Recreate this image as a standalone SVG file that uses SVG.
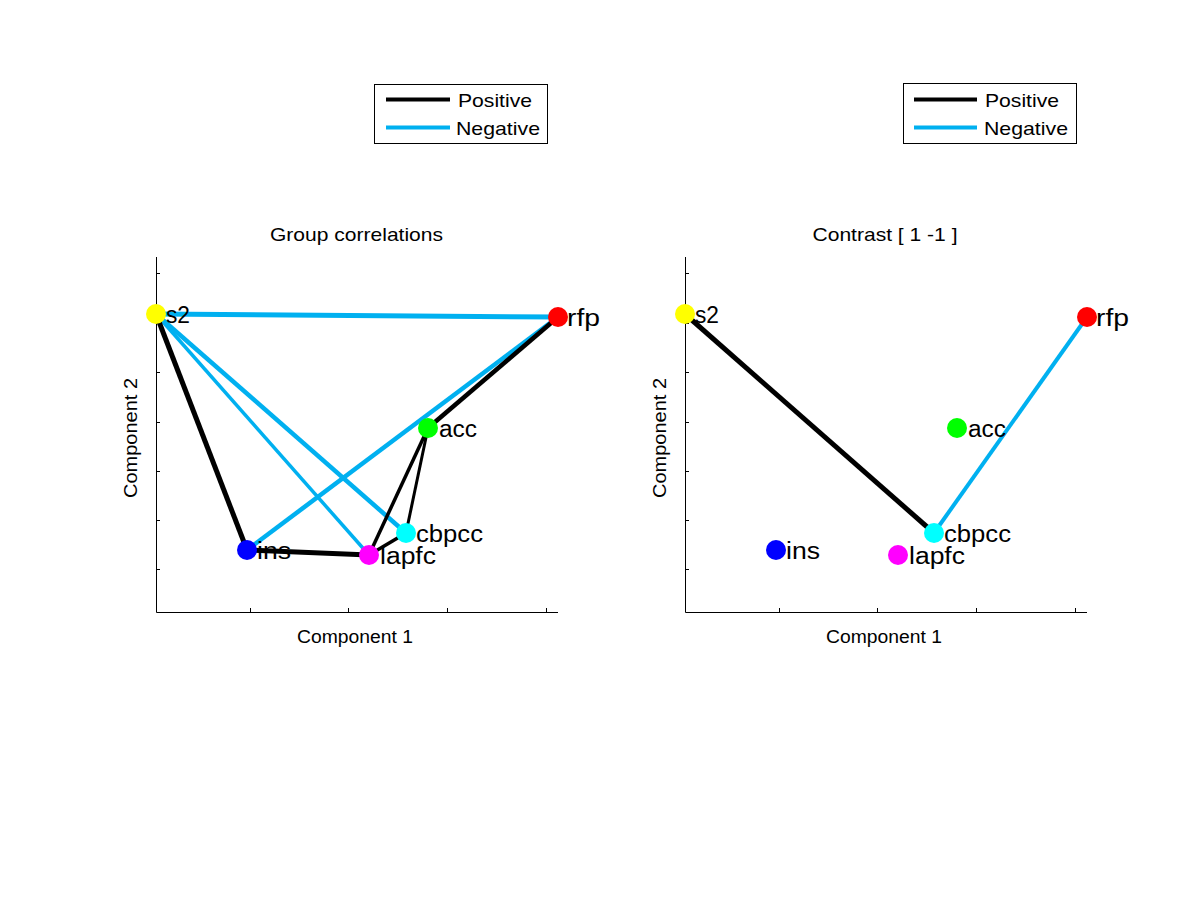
<svg xmlns="http://www.w3.org/2000/svg" width="1201" height="901" viewBox="0 0 1201 901">
<style>
text{font-family:"Liberation Sans",Arial,sans-serif;fill:#000}
.ax{stroke:#000;stroke-width:1;fill:none}
.pos{stroke:#000;fill:none;stroke-linecap:butt}
.neg{stroke:#00B0F0;fill:none;stroke-linecap:butt}
.lbl{font-size:23px}
.ttl{font-size:19px;text-anchor:middle}
.axl{font-size:18px;text-anchor:middle}
.leg{font-size:19px}
</style>
<rect width="1201" height="901" fill="#fff"/>

<!-- Left legend -->
<g id="legend-left">
<rect x="374.5" y="84.5" width="173" height="59" fill="#fff" stroke="#000"/>
<line x1="386" y1="99.5" x2="450" y2="99.5" class="pos" stroke-width="4"/>
<line x1="386" y1="127.5" x2="450" y2="127.5" class="neg" stroke-width="4"/>
<text x="458" y="107" class="leg" textLength="74" lengthAdjust="spacingAndGlyphs">Positive</text>
<text x="456" y="135" class="leg" textLength="84" lengthAdjust="spacingAndGlyphs">Negative</text>
</g>

<!-- Right legend -->
<g id="legend-right">
<rect x="903.5" y="83.5" width="173" height="60" fill="#fff" stroke="#000"/>
<line x1="914" y1="99.5" x2="977" y2="99.5" class="pos" stroke-width="4"/>
<line x1="914" y1="127.5" x2="977" y2="127.5" class="neg" stroke-width="4"/>
<text x="985" y="107" class="leg" textLength="74" lengthAdjust="spacingAndGlyphs">Positive</text>
<text x="984" y="135" class="leg" textLength="84" lengthAdjust="spacingAndGlyphs">Negative</text>
</g>

<!-- Left axes -->
<g id="axes-left">
<text x="356.5" y="241" class="ttl" textLength="173" lengthAdjust="spacingAndGlyphs">Group correlations</text>
<path class="ax" d="M156.5,257 V612.5 H558"/>
<path class="ax" d="M250.5,612 v-4 M348.5,612 v-4 M447.5,612 v-4 M546.5,612 v-4"/>
<path class="ax" d="M156,273.5 h4 M156,323.5 h4 M156,372.5 h4 M156,422.5 h4 M156,471.5 h4 M156,520.5 h4 M156,569.5 h4"/>
<text x="355" y="643" class="axl" textLength="116" lengthAdjust="spacingAndGlyphs">Component 1</text>
<text transform="translate(137,438) rotate(-90)" class="axl" textLength="120" lengthAdjust="spacingAndGlyphs">Component 2</text>
</g>

<!-- Right axes -->
<g id="axes-right">
<text x="885" y="241" class="ttl" textLength="145" lengthAdjust="spacingAndGlyphs">Contrast [ 1 -1 ]</text>
<path class="ax" d="M685.5,257 V612.5 H1087"/>
<path class="ax" d="M779.5,612 v-4 M877.5,612 v-4 M976.5,612 v-4 M1075.5,612 v-4"/>
<path class="ax" d="M685,273.5 h4 M685,323.5 h4 M685,372.5 h4 M685,422.5 h4 M685,471.5 h4 M685,520.5 h4 M685,569.5 h4"/>
<text x="884" y="643" class="axl" textLength="116" lengthAdjust="spacingAndGlyphs">Component 1</text>
<text transform="translate(666,438) rotate(-90)" class="axl" textLength="120" lengthAdjust="spacingAndGlyphs">Component 2</text>
</g>

<!-- Connectors -->
<g id="connectors">
<!-- left: negative -->
<line class="neg" x1="156" y1="314" x2="558" y2="317" stroke-width="5"/>
<line class="neg" x1="156" y1="314" x2="406" y2="533" stroke-width="4.5"/>
<line class="neg" x1="156" y1="314" x2="369" y2="555" stroke-width="3.5"/>
<line class="neg" x1="247" y1="550" x2="558" y2="317" stroke-width="4.5"/>
<!-- left: positive -->
<line class="pos" x1="156" y1="314" x2="247" y2="550" stroke-width="5"/>
<line class="pos" x1="247" y1="550" x2="369" y2="555" stroke-width="5"/>
<line class="pos" x1="558" y1="317" x2="428" y2="428" stroke-width="4.5"/>
<line class="pos" x1="428" y1="428" x2="369" y2="555" stroke-width="3.5"/>
<line class="pos" x1="428" y1="428" x2="406" y2="533" stroke-width="3"/>
<line class="pos" x1="369" y1="555" x2="406" y2="533" stroke-width="3.5"/>
<!-- right -->
<line class="pos" x1="685" y1="314" x2="934" y2="533" stroke-width="5"/>
<line class="neg" x1="934" y1="533" x2="1087" y2="317" stroke-width="4"/>
</g>

<!-- Left nodes -->
<g id="L-s2"><circle cx="156" cy="314" r="10" fill="#ffff00"/><text x="166" y="323" class="lbl" textLength="24" lengthAdjust="spacingAndGlyphs">s2</text></g>
<g id="L-rfp"><circle cx="558" cy="317" r="10" fill="#ff0000"/><text x="567" y="326" class="lbl" textLength="33" lengthAdjust="spacingAndGlyphs">rfp</text></g>
<g id="L-acc"><circle cx="428" cy="428" r="10" fill="#00ff00"/><text x="439" y="437" class="lbl" textLength="38" lengthAdjust="spacingAndGlyphs">acc</text></g>
<g id="L-cbpcc"><circle cx="406" cy="533" r="10" fill="#00ffff"/><text x="416" y="542" class="lbl" textLength="67" lengthAdjust="spacingAndGlyphs">cbpcc</text></g>
<g id="L-ins"><circle cx="247" cy="550" r="10" fill="#0000ff"/><text x="257" y="559" class="lbl" textLength="34" lengthAdjust="spacingAndGlyphs">ins</text></g>
<g id="L-lapfc"><circle cx="369" cy="555" r="10" fill="#ff00ff"/><text x="380" y="564" class="lbl" textLength="56" lengthAdjust="spacingAndGlyphs">lapfc</text></g>

<!-- Right nodes -->
<g id="R-s2"><circle cx="685" cy="314" r="10" fill="#ffff00"/><text x="695" y="323" class="lbl" textLength="24" lengthAdjust="spacingAndGlyphs">s2</text></g>
<g id="R-rfp"><circle cx="1087" cy="317" r="10" fill="#ff0000"/><text x="1096" y="326" class="lbl" textLength="33" lengthAdjust="spacingAndGlyphs">rfp</text></g>
<g id="R-acc"><circle cx="957" cy="428" r="10" fill="#00ff00"/><text x="968" y="437" class="lbl" textLength="38" lengthAdjust="spacingAndGlyphs">acc</text></g>
<g id="R-cbpcc"><circle cx="934" cy="533" r="10" fill="#00ffff"/><text x="944" y="542" class="lbl" textLength="67" lengthAdjust="spacingAndGlyphs">cbpcc</text></g>
<g id="R-ins"><circle cx="776" cy="550" r="10" fill="#0000ff"/><text x="786" y="559" class="lbl" textLength="34" lengthAdjust="spacingAndGlyphs">ins</text></g>
<g id="R-lapfc"><circle cx="898" cy="555" r="10" fill="#ff00ff"/><text x="909" y="564" class="lbl" textLength="56" lengthAdjust="spacingAndGlyphs">lapfc</text></g>
</svg>
